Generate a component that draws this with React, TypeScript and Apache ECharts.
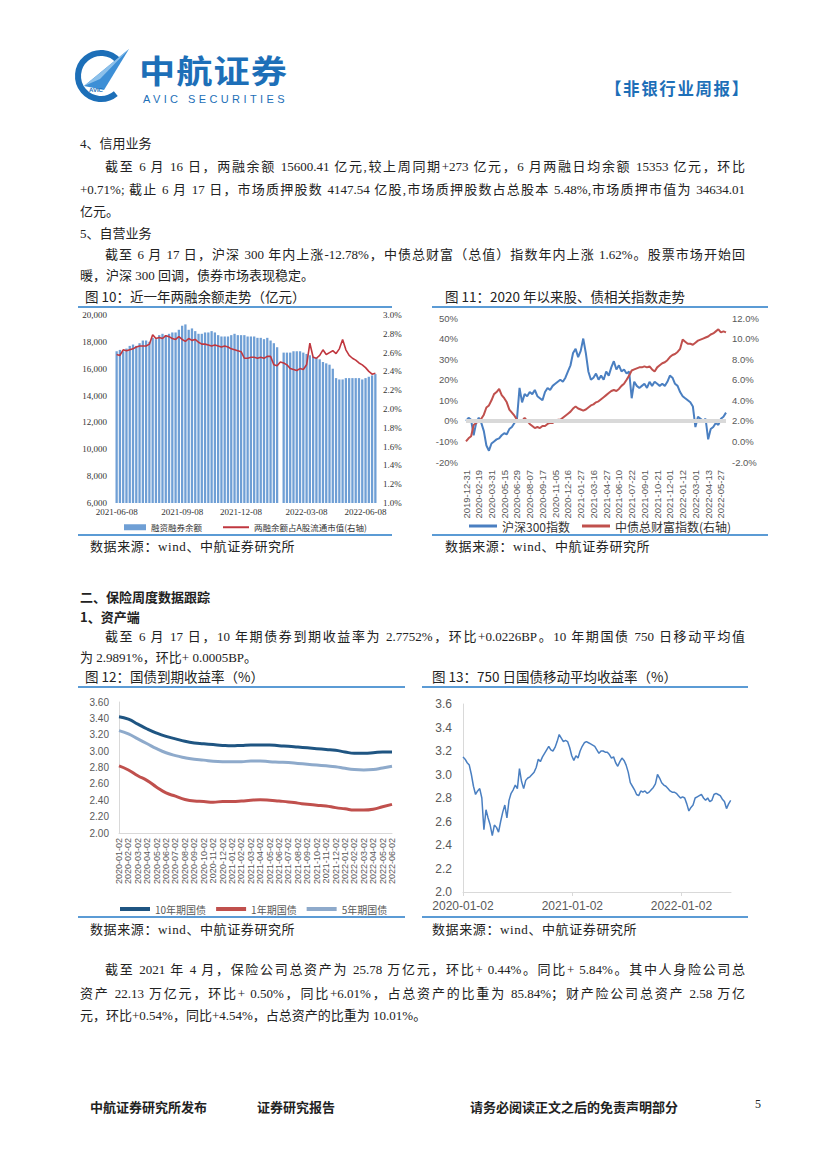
import React, { useEffect, useRef } from "react";
import * as echarts from "echarts";

const W = 827;
const H = 1169;

// ---------- Chart 10: margin balance (bars, left) & ratio to float cap (line, right) ----------
const bal10 = [
  17300, 17400, 17300, 17500, 17700, 17800, 17700, 17900, 18100, 18100,
  18000, 18300, 18200, 18500, 18600, 18500, 18600, 18700, 18700, 18900,
  19200, 19300, 18900, 19000, 18800, 18600, 18600, 18700, 18700, 18800,
  18700, 18500, 18400, 18400, 18400, 18500, 18600, 18500, 18500, 18500,
  18400, 18400, 18400, 18300, 18300, 18200, 18300, 18100, 17900, 17600,
  null, 17200, 17200, 17200, 17300, 17300, 17300, 17200, 17100, 17000,
  16900, 16800, 16700, 16500, 16400, 16300, 16000, 15300, 15200, 15200,
  15300, 15300, 15300, 15300, 15300, 15200, 15300, 15400, 15500, 15600,
];
const ratio10 = [
  2.58, 2.57, 2.63, 2.62, 2.63, 2.64, 2.66, 2.67, 2.67, 2.67,
  2.69, 2.79, 2.75, 2.76, 2.75, 2.78, 2.77, 2.75, 2.74, 2.77,
  2.74, 2.72, 2.75, 2.73, 2.74, 2.71, 2.69, 2.69, 2.68, 2.67,
  2.68, 2.67, 2.66, 2.67, 2.66, 2.64, 2.63, 2.62, 2.61, 2.54,
  2.54, 2.55, 2.55, 2.54, 2.55, 2.54, 2.56, 2.56, 2.47, 2.46,
  2.5, 2.49, 2.47, 2.43, 2.42, 2.41, 2.43, 2.42, 2.47, 2.7,
  2.55, 2.54, 2.57, 2.63, 2.58, 2.6, 2.62, 2.59, 2.64, 2.74,
  2.63, 2.57, 2.54, 2.52, 2.49, 2.47, 2.44, 2.4, 2.37, 2.38,
];
const tick10Index = [0, 20, 38, 58, 76];
const tick10Labels = ["2021-06-08", "2021-09-08", "2021-12-08", "2022-03-08", "2022-06-08"];

// ---------- Chart 11: CSI 300 (left) & ChinaBond wealth index (right), cumulative % ----------
const hs300 = [
  0, 1.5, 0.5, -7, -1, 1.5, -1, -5, -12, -14.5,
  -11, -10, -9, -8.5, -7, -6, -6.5, -4, -3, -1,
  1, 16, 9, 13, 12, 14, 13, 15, 12, 11,
  10, 14, 16, 15, 17, 18, 19, 20, 19, 21,
  24, 27, 33, 35, 31, 34, 40, 33, 24, 20,
  21, 23, 20, 22, 20, 24, 22, 26, 29, 25,
  27, 24, 25, 23, 24, 11, 19, 17, 16, 17,
  18, 16, 19, 17, 19, 18, 17, 18, 17, 19,
  22, 21, 18, 17, 14, 12, 11, 10, 9, 7,
  -3, 2, 1, 0, 1, -9, -4, -3, -1, -2,
  1, 2, 4,
];
const cbond = [
  0.0, 0.3, 0.5, 1.6, 1.8, 2.0, 2.2, 2.6, 3.3, 3.5,
  4.0, 4.6, 4.8, 5.1, 4.5, 4.2, 3.8, 3.1, 2.8, 2.5,
  2.1, 1.9, 2.0, 2.3, 2.0, 1.7, 1.5, 1.3, 1.4, 1.3,
  1.5, 1.5, 1.7, 1.8, 1.8, 2.0, 2.1, 2.1, 2.3, 2.5,
  2.7, 2.9, 3.2, 3.4, 3.2, 3.1, 3.0, 3.1, 3.3, 3.5,
  3.6, 3.8, 3.9, 4.1, 4.3, 4.5, 4.7, 4.9, 5.0, 4.9,
  5.1, 5.4, 5.6, 6.0, 6.4, 6.9, 7.0, 7.1, 7.2, 7.2,
  7.3, 7.2, 7.3, 7.0, 6.8, 7.2, 7.4, 7.6, 7.7, 7.9,
  8.2, 8.4, 8.5, 8.7, 9.0, 9.9, 9.7, 9.5, 9.5, 9.4,
  9.6, 9.8, 9.9, 10.0, 10.1, 10.2, 10.4, 10.5, 10.7, 10.9,
  10.6, 10.7, 10.6,
];
const tick11Labels = [
  "2019-12-31", "2020-02-19", "2020-03-31", "2020-05-15", "2020-06-29", "2020-08-07",
  "2020-09-17", "2020-11-05", "2020-12-16", "2021-01-27", "2021-03-16", "2021-04-27",
  "2021-06-10", "2021-07-22", "2021-09-01", "2021-10-21", "2021-12-01", "2022-01-12",
  "2022-03-01", "2022-04-13", "2022-05-27",
];

// ---------- Chart 12: treasury yields (%) ----------
const months12 = [
  "2020-01-02", "2020-02-02", "2020-03-02", "2020-04-02", "2020-05-02", "2020-06-02",
  "2020-07-02", "2020-08-02", "2020-09-02", "2020-10-02", "2020-11-02", "2020-12-02",
  "2021-01-02", "2021-02-02", "2021-03-02", "2021-04-02", "2021-05-02", "2021-06-02",
  "2021-07-02", "2021-08-02", "2021-09-02", "2021-10-02", "2021-11-02", "2021-12-02",
  "2022-01-02", "2022-02-02", "2022-03-02", "2022-04-02", "2022-05-02", "2022-06-02",
];
const y10 = [
  3.42, 3.39, 3.33, 3.27, 3.22, 3.18, 3.15, 3.12, 3.1, 3.09,
  3.08, 3.07, 3.065, 3.07, 3.075, 3.075, 3.075, 3.065, 3.06, 3.05,
  3.04, 3.03, 3.02, 3.01, 2.99, 2.975, 2.975, 2.98, 2.99, 2.99,
];
const y1 = [
  2.82, 2.77, 2.7, 2.64, 2.56, 2.49, 2.45, 2.41, 2.39, 2.385,
  2.375, 2.385, 2.385, 2.39, 2.4, 2.405, 2.4, 2.39, 2.38, 2.365,
  2.35, 2.34, 2.33, 2.31, 2.295, 2.28, 2.28, 2.29, 2.32, 2.35,
];
const y5 = [
  3.25, 3.21, 3.15, 3.09, 3.03, 2.98, 2.945, 2.92, 2.9, 2.89,
  2.875, 2.87, 2.87, 2.87, 2.88, 2.88, 2.87, 2.865, 2.86, 2.85,
  2.84, 2.83, 2.82, 2.81, 2.79, 2.775, 2.77, 2.775, 2.795, 2.815,
];

// ---------- Chart 13: 750-day moving average yield (%), weekly readings from 2020-01-02 ----------
const start13 = "2020-01-02";
const end13 = "2022-06-17";
const ma750 = [
  3.15, 3.13, 3.1, 3.08, 3.0, 2.9, 2.83, 2.86, 2.88, 2.8,
  2.53, 2.7, 2.63, 2.57, 2.48, 2.57, 2.55, 2.51, 2.6, 2.68,
  2.74, 2.63, 2.78, 2.84, 2.87, 2.91, 2.88, 3.05, 2.94, 2.88,
  2.95, 2.97, 2.98, 3.0, 3.02, 3.06, 3.13, 3.11, 3.15, 3.18,
  3.21, 3.24, 3.21, 3.2, 3.23, 3.28, 3.34, 3.31, 3.28, 3.29,
  3.28, 3.23, 3.16, 3.12, 3.16, 3.14, 3.2, 3.24, 3.27, 3.28,
  3.27, 3.26, 3.25, 3.24, 3.21, 3.18, 3.2, 3.2, 3.19, 3.19,
  3.17, 3.14, 3.15, 3.1, 3.07, 3.11, 3.14, 3.12, 3.08, 3.02,
  2.93, 2.9, 2.87, 2.83, 2.82, 2.86, 2.85, 2.86, 2.84, 2.85,
  2.87, 2.89, 2.92, 3.0, 2.97, 2.93, 2.91, 2.9, 2.88, 2.86,
  2.85, 2.85, 2.84, 2.82, 2.8, 2.81, 2.8, 2.75, 2.69, 2.72,
  2.74, 2.8, 2.81, 2.82, 2.83, 2.8, 2.78, 2.8, 2.77, 2.78,
  2.83, 2.84, 2.83, 2.82, 2.79, 2.77, 2.71, 2.75, 2.78,
];
const tick13Labels = ["2020-01-02", "2021-01-02", "2022-01-02"];

// ---------- page text ----------
const BLUE = "#1d6fb8";
const RULE = "#5b9bd5";
const TEXT = "#222";
const BODY_FONT = '"Liberation Serif", "Noto Sans CJK SC", serif';
const SANS_FONT = '"Noto Sans CJK SC", "Liberation Sans", sans-serif';

type Ln = { x: number; y: number; t: string; w?: number; size?: number; bold?: boolean; font?: string; color?: string; ls?: number };

const bodyLines: Ln[] = [
  { x: 80, y: 144, t: "4、信用业务" },
  { x: 105, y: 167, w: 640, t: "截至 6 月 16 日，两融余额 15600.41 亿元,较上周同期+273 亿元，6 月两融日均余额 15353 亿元，环比" },
  { x: 80, y: 190, w: 665, t: "+0.71%; 截止 6 月 17 日，市场质押股数 4147.54 亿股,市场质押股数占总股本 5.48%,市场质押市值为 34634.01" },
  { x: 80, y: 212, t: "亿元。" },
  { x: 80, y: 234, t: "5、自营业务" },
  { x: 105, y: 255, w: 640, t: "截至 6 月 17 日，沪深 300 年内上涨-12.78%，中债总财富（总值）指数年内上涨 1.62%。股票市场开始回" },
  { x: 80, y: 276, t: "暖，沪深 300 回调，债券市场表现稳定。" },
  { x: 80, y: 597, t: "二、保险周度数据跟踪", bold: true, font: SANS_FONT },
  { x: 80, y: 617, t: "1、资产端", bold: true, font: SANS_FONT },
  { x: 105, y: 637, w: 640, t: "截至 6 月 17 日，10 年期债券到期收益率为 2.7752%，环比+0.0226BP。10 年期国债 750 日移动平均值" },
  { x: 80, y: 658, t: "为 2.9891%，环比+ 0.0005BP。" },
  { x: 105, y: 970, w: 640, t: "截至 2021 年 4 月，保险公司总资产为 25.78 万亿元，环比+ 0.44%。同比+ 5.84%。其中人身险公司总" },
  { x: 80, y: 994, w: 665, t: "资产 22.13 万亿元，环比+ 0.50%，同比+6.01%，占总资产的比重为 85.84%；财产险公司总资产 2.58 万亿" },
  { x: 80, y: 1016, t: "元，环比+0.54%，同比+4.54%，占总资产的比重为 10.01%。" },
];

const titleLines: Ln[] = [
  { x: 85, y: 296, t: "图 10：近一年两融余额走势（亿元）", size: 13.5, font: SANS_FONT },
  { x: 445, y: 296, t: "图 11：2020 年以来股、债相关指数走势", size: 13.5, font: SANS_FONT },
  { x: 85, y: 676, t: "图 12：国债到期收益率（%）", size: 13.5, font: SANS_FONT },
  { x: 432, y: 676, t: "图 13：750 日国债移动平均收益率（%）", size: 13.5, font: SANS_FONT },
  { x: 90, y: 547, t: "数据来源：wind、中航证券研究所", size: 13, ls: 0.6 },
  { x: 445, y: 547, t: "数据来源：wind、中航证券研究所", size: 13, ls: 0.6 },
  { x: 90, y: 930, t: "数据来源：wind、中航证券研究所", size: 13, ls: 0.6 },
  { x: 432, y: 930, t: "数据来源：wind、中航证券研究所", size: 13, ls: 0.6 },
  { x: 90, y: 1107, t: "中航证券研究所发布", size: 13, bold: true, font: SANS_FONT },
  { x: 257, y: 1107, t: "证券研究报告", size: 13, bold: true, font: SANS_FONT },
  { x: 470, y: 1107, t: "请务必阅读正文之后的免责声明部分", size: 13, bold: true, font: SANS_FONT },
  { x: 755, y: 1104, t: "5", size: 12, font: BODY_FONT },
];

const rules = [
  { x1: 78, x2: 392, y: 307 }, { x1: 78, x2: 392, y: 535 },
  { x1: 432, x2: 768, y: 307 }, { x1: 432, x2: 768, y: 535 },
  { x1: 78, x2: 405, y: 687 }, { x1: 78, x2: 405, y: 917 },
  { x1: 422, x2: 748, y: 687 }, { x1: 422, x2: 748, y: 917 },
];

function Line({ l }: { l: Ln }) {
  const size = l.size ?? 13;
  const lh = 18;
  const justify = l.w !== undefined;
  return (
    <div
      style={{
        position: "absolute",
        left: l.x,
        top: l.y - lh / 2,
        width: l.w,
        height: lh,
        lineHeight: lh + "px",
        fontSize: size,
        fontWeight: l.bold ? 700 : 400,
        fontFamily: l.font ?? BODY_FONT,
        color: l.color ?? TEXT,
        letterSpacing: l.ls ?? 0,
        whiteSpace: "nowrap",
        textAlign: justify ? "justify" : "left",
        textAlignLast: justify ? "justify" : "auto",
      } as React.CSSProperties}
    >
      {l.t}
    </div>
  );
}

const utc = (s: string) => {
  const [y, m, d] = s.split("-").map(Number);
  return Date.UTC(y, m - 1, d);
};
const fmtDate = (v: number) => {
  const d = new Date(v);
  const p = (n: number) => String(n).padStart(2, "0");
  return `${d.getUTCFullYear()}-${p(d.getUTCMonth() + 1)}-${p(d.getUTCDate())}`;
};

function buildOption(): any {
  const idx10 = bal10.map((_, i) => String(i));
  const idx11 = hs300.map((_, i) => String(i));
  const day = 86400000;
  const t0 = utc(start13);
  const data13 = ma750.map((v, i) => [t0 + i * 7 * day, v]);
  const gray = "#595959";
  const axisGray = "#d9d9d9";
  const serif = "Liberation Serif";
  const sans = "Liberation Sans";
  const ticks13 = tick13Labels.map(utc);
  const legText = { color: "#333", fontFamily: "Noto Sans CJK SC" };

  return {
    animation: false,
    backgroundColor: "transparent",
    grid: [
      { left: 115, top: 315, width: 262, height: 188 },
      { left: 466, top: 318, width: 260, height: 144 },
      { left: 119, top: 702, width: 273, height: 131 },
      { left: 463, top: 704, width: 268, height: 188 },
    ],
    xAxis: [
      {
        gridIndex: 0, type: "category", data: idx10, boundaryGap: true,
        axisLine: { show: false }, axisTick: { show: false },
        axisLabel: {
          interval: (i: number) => tick10Index.includes(i),
          formatter: (v: string) => tick10Labels[tick10Index.indexOf(Number(v))] ?? "",
          fontSize: 9, fontFamily: serif, color: "#333", margin: 4,
        },
      },
      {
        gridIndex: 1, type: "category", data: idx11, boundaryGap: false,
        axisLine: { show: false }, axisTick: { show: false },
        axisLabel: {
          interval: 4, rotate: 90,
          formatter: (v: string) => tick11Labels[Number(v) / 5] ?? "",
          fontSize: 9.5, fontFamily: sans, color: gray, margin: 8,
        },
      },
      {
        gridIndex: 2, type: "category", data: months12, boundaryGap: false,
        axisLine: { show: true, lineStyle: { color: axisGray } }, axisTick: { show: false },
        axisLabel: { interval: 0, rotate: 90, fontSize: 9, fontFamily: sans, color: gray, margin: 5 },
      },
      {
        gridIndex: 3, type: "value", min: utc(start13), max: utc(end13),
        axisLine: { show: true, lineStyle: { color: axisGray } },
        axisTick: { show: true, length: 4, lineStyle: { color: axisGray }, customValues: ticks13 },
        axisLabel: {
          customValues: ticks13, formatter: (v: number) => fmtDate(v),
          fontSize: 12, fontFamily: sans, color: gray, margin: 8,
        },
        splitLine: { show: false },
      },
    ],
    yAxis: [
      {
        gridIndex: 0, type: "value", min: 6000, max: 20000, interval: 2000,
        axisLine: { show: false }, axisTick: { show: false }, splitLine: { show: false },
        axisLabel: { formatter: (v: number) => v.toLocaleString("en-US"), fontSize: 9, fontFamily: serif, color: "#333", margin: 8 },
      },
      {
        gridIndex: 0, type: "value", position: "right", min: 1, max: 3, interval: 0.2,
        axisLine: { show: false }, axisTick: { show: false }, splitLine: { show: false },
        axisLabel: { formatter: (v: number) => v.toFixed(1) + "%", fontSize: 9, fontFamily: serif, color: "#333", margin: 6 },
      },
      {
        gridIndex: 1, type: "value", min: -20, max: 50, interval: 10,
        axisLine: { show: false }, axisTick: { show: false }, splitLine: { show: false },
        axisLabel: { formatter: "{value}%", fontSize: 9.5, fontFamily: sans, color: gray, margin: 8 },
      },
      {
        gridIndex: 1, type: "value", position: "right", min: -2, max: 12, interval: 2,
        axisLine: { show: false }, axisTick: { show: false }, splitLine: { show: false },
        axisLabel: { formatter: (v: number) => v.toFixed(1) + "%", fontSize: 9.5, fontFamily: sans, color: gray, margin: 6 },
      },
      {
        gridIndex: 2, type: "value", min: 2, max: 3.6, interval: 0.2,
        axisLine: { show: true, lineStyle: { color: axisGray } }, axisTick: { show: false }, splitLine: { show: false },
        axisLabel: { formatter: (v: number) => v.toFixed(2), fontSize: 10, fontFamily: sans, color: gray, margin: 10 },
      },
      {
        gridIndex: 3, type: "value", min: 2, max: 3.6, interval: 0.2,
        axisLine: { show: true, lineStyle: { color: axisGray } }, axisTick: { show: false }, splitLine: { show: false },
        axisLabel: { formatter: (v: number) => v.toFixed(1), fontSize: 12, fontFamily: sans, color: gray, margin: 11 },
      },
    ],
    legend: [
      {
        data: ["融资融券余额"], icon: "rect",
        left: 119, top: 518, itemWidth: 22, itemHeight: 6,
        textStyle: { ...legText, fontSize: 8.5 },
      },
      {
        data: ["两融余额占A股流通市值(右轴)"], icon: "rect",
        left: 218, top: 518, itemWidth: 26, itemHeight: 2,
        textStyle: { ...legText, fontSize: 8.5 },
      },
      {
        data: ["沪深300指数", "中债总财富指数(右轴)"], icon: "rect",
        left: 464, top: 515, itemWidth: 28, itemHeight: 3, itemGap: 12,
        textStyle: { ...legText, fontSize: 12 },
      },
      {
        data: ["10年期国债", "1年期国债", "5年期国债"],
        icon: "rect", left: 115, top: 899, itemWidth: 30, itemHeight: 4, itemGap: 10,
        textStyle: { ...legText, fontSize: 10, color: gray },
      },
    ],
    series: [
      {
        name: "融资融券余额", type: "bar", xAxisIndex: 0, yAxisIndex: 0, data: bal10,
        barCategoryGap: "30%", itemStyle: { color: "#6f9fd5" },
      },
      {
        name: "两融余额占A股流通市值(右轴)", type: "line", xAxisIndex: 0, yAxisIndex: 1, data: ratio10,
        symbol: "none", lineStyle: { color: "#c0373f", width: 1.6 }, itemStyle: { color: "#c0373f" },
      },
      {
        name: "zero11", type: "line", xAxisIndex: 1, yAxisIndex: 2, data: [], z: 1,
        markLine: {
          silent: true, symbol: "none", label: { show: false },
          lineStyle: { color: "#d9d9d9", width: 4, type: "solid" }, data: [{ yAxis: 0 }],
        },
      },
      {
        name: "沪深300指数", type: "line", xAxisIndex: 1, yAxisIndex: 2, data: hs300,
        symbol: "none", lineStyle: { color: "#4a7fc1", width: 2 }, itemStyle: { color: "#4a7fc1" },
      },
      {
        name: "中债总财富指数(右轴)", type: "line", xAxisIndex: 1, yAxisIndex: 3, data: cbond,
        symbol: "none", lineStyle: { color: "#c0504d", width: 2 }, itemStyle: { color: "#c0504d" },
      },
      {
        name: "10年期国债", type: "line", xAxisIndex: 2, yAxisIndex: 4, data: y10, smooth: true,
        symbol: "none", lineStyle: { color: "#1f5582", width: 3 }, itemStyle: { color: "#1f5582" },
      },
      {
        name: "1年期国债", type: "line", xAxisIndex: 2, yAxisIndex: 4, data: y1, smooth: true,
        symbol: "none", lineStyle: { color: "#c0504d", width: 3 }, itemStyle: { color: "#c0504d" },
      },
      {
        name: "5年期国债", type: "line", xAxisIndex: 2, yAxisIndex: 4, data: y5, smooth: true,
        symbol: "none", lineStyle: { color: "#8eaacb", width: 3 }, itemStyle: { color: "#8eaacb" },
      },
      {
        name: "750日国债移动平均收益率", type: "line", xAxisIndex: 3, yAxisIndex: 5, data: data13,
        symbol: "none", lineStyle: { color: "#4a7fc1", width: 1.5 }, itemStyle: { color: "#4a7fc1" },
      },
    ],
  };
}

function Logo() {
  return (
    <svg style={{ position: "absolute", left: 74, top: 46 }} width="58" height="60" viewBox="0 0 58 60">
      <path d="M44.6,15.2 A23,23 0 1,0 41.8,47.6" fill="none" stroke={BLUE} strokeWidth="6" />
      <polygon points="10,40 55,3 30,44" fill="#3d8fd6" />
      <polygon points="10,40 55,3 26,33" fill="#8cc0ea" />
      <text x="15" y="46" fontSize="6" fill={BLUE} fontFamily="Liberation Sans" fontWeight="700">AVIC</text>
    </svg>
  );
}

export default function App() {
  const ref = useRef<HTMLDivElement>(null);
  useEffect(() => {
    if (!ref.current) return;
    const chart = echarts.init(ref.current, null, { renderer: "svg", width: W, height: H });
    try {
      chart.setOption(buildOption());
    } catch (e) {
      console.error(e);
    }
    return () => chart.dispose();
  }, []);

  return (
    <div style={{ position: "absolute", left: 0, top: 0, width: W, height: H, background: "#fff", overflow: "hidden" }}>
      <Logo />
      <div style={{ position: "absolute", left: 139, top: 53, height: 32, fontSize: 32, fontWeight: 700, color: BLUE, fontFamily: SANS_FONT, lineHeight: "32px", letterSpacing: 1, transform: "scaleX(1.13)", transformOrigin: "left center", whiteSpace: "nowrap" }}>
        中航证券
      </div>
      <div style={{ position: "absolute", left: 143, top: 93.5, height: 11, fontSize: 11, color: BLUE, fontFamily: '"Liberation Sans", sans-serif', lineHeight: "11px", letterSpacing: 3.4, whiteSpace: "nowrap" }}>
        AVIC SECURITIES
      </div>
      <div style={{ position: "absolute", left: 605, top: 78, fontSize: 16.5, fontWeight: 700, color: BLUE, fontFamily: SANS_FONT, lineHeight: "20px", letterSpacing: 1.6, whiteSpace: "nowrap" }}>
        【非银行业周报】
      </div>
      {rules.map((r, i) => (
        <div key={"r" + i} style={{ position: "absolute", left: r.x1, top: r.y - 1, width: r.x2 - r.x1, height: 2, background: RULE }} />
      ))}
      {bodyLines.map((l, i) => <Line key={"b" + i} l={l} />)}
      {titleLines.map((l, i) => <Line key={"t" + i} l={l} />)}
      <div ref={ref} style={{ position: "absolute", left: 0, top: 0, width: W, height: H }} />
    </div>
  );
}
